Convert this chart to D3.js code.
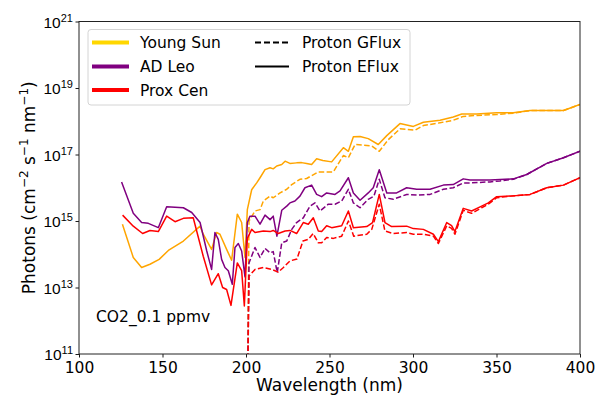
<!DOCTYPE html>
<html>
<head>
<meta charset="utf-8">
<script src="https://cdn.jsdelivr.net/npm/d3@7"></script>
<style>
  body { margin: 0; background: #fff; }
  svg { font-family: "DejaVu Sans", sans-serif; }
</style>
</head>
<body>
<svg id="chart" width="597" height="395"></svg>
<script>
///////////////////////////////////////////////////////////////////////////////
// data (wavelength in nm, photon flux in cm^-2 s^-1 nm^-1)

var LOW = 1e8; // the dashed runs start below the axis floor at 200 nm

var youngSunWl = [126, 132.5, 137.5, 142.5, 148, 153.5, 162.5, 172.5, 174.4, 179.4, 182.4, 184.4, 188.4, 191.4, 194.8, 197.4, 199.4, 200.8, 203.4, 206.4, 208.4, 211.4, 214.4, 216.3, 218.4, 221.4, 223.4, 226.3, 230.3, 233.3, 236.3, 239.3, 242.3, 246, 251.3, 258.3, 261.3, 264.3, 268.3, 273.2, 279.2, 284.3, 292.2, 300.2, 306.2, 316.2, 324.1, 329.2, 338.1, 350.1, 360.1, 370.1, 390.1, 400];
var youngSunE = [8e14, 8e13, 4e13, 5e13, 7e13, 1.3e14, 2.5e14, 7e14, 4e14, 1.4e14, 4.5e14, 4e14, 1.4e14, 6.6e13, 1.6e15, 9e14, 8e13, 2.2e15, 8.7e15, 1.4e16, 2e16, 3.5e16, 4e16, 3.7e16, 4.5e16, 5e16, 6.3e16, 5.4e16, 5.6e16, 5.7e16, 5.4e16, 5e16, 7.4e16, 6.6e16, 6e16, 1.6e17, 1.25e17, 3.4e17, 3.5e17, 3e17, 2e17, 3.7e17, 8.5e17, 7e17, 9.3e17, 1.07e18, 1.35e18, 1.65e18, 1.65e18, 1.8e18, 1.8e18, 2.1e18, 2.1e18, 3.2e18];

var youngSunGWl = [200.5, 201.8, 205.4, 208.4, 210.4, 214.4, 216.3, 220.4, 224.4, 227.4, 232.3, 236.3, 239.3, 243.3, 252.3, 258.3, 261.3, 265.3, 270.3, 275.3, 279.8, 285.2, 292.2, 301.2, 306.2, 316.2, 324.1, 330.1, 338.1, 350.1, 360.1, 370.1, 390.1, 400];
var youngSunG = [LOW, 1e15, 2e15, 2.2e15, 4e15, 5.6e15, 5e15, 7e15, 9e15, 1.25e16, 1.8e16, 1.9e16, 2.3e16, 3e16, 3e16, 9.3e16, 8e16, 2e17, 1.9e17, 1.8e17, 1.25e17, 2.8e17, 5.9e17, 5.4e17, 7.4e17, 9e17, 1.07e18, 1.4e18, 1.5e18, 1.6e18, 1.75e18, 2.1e18, 2.1e18, 3.2e18];

var adLeoWl = [125.5, 132.5, 137.5, 141.5, 147.5, 152.5, 162.5, 167.5, 172.5, 176.5, 179.4, 181.4, 183.4, 185.4, 187.4, 189.4, 191.8, 193.4, 195.4, 197.4, 199.4, 200.8, 202.4, 205.4, 208.4, 211.4, 214.4, 216.3, 218.5, 221.4, 224.4, 226.3, 229.3, 232.3, 235.3, 239.3, 242.3, 245.3, 248.3, 253.3, 256.3, 261.3, 264.3, 268.3, 273.2, 276.2, 279.8, 284.3, 290.2, 296.2, 302.2, 310.2, 318.2, 324.1, 330.1, 334.1, 346.1, 360.1, 368.1, 380.1, 390.1, 400];
var adLeoE = [1.5e16, 1.7e15, 9e14, 8.5e14, 6.3e14, 2.7e15, 2.5e15, 1.8e15, 9e14, 1.25e14, 3.5e13, 4.5e14, 2.8e14, 7e13, 4e13, 3.2e13, 1.25e13, 1.6e14, 2.1e14, 1.25e14, 2.1e13, 9e14, 1.4e15, 1.4e15, 8e14, 1.5e15, 1.1e15, 1.4e15, 3.5e14, 2.1e15, 2.8e15, 3.5e15, 4e15, 5.6e15, 1e16, 1.2e16, 6.3e15, 5.4e15, 7e15, 6.3e15, 8e15, 2e16, 7e15, 4.2e15, 7e15, 1e16, 3.5e16, 7e15, 7e15, 1e16, 9e15, 9e15, 1.2e16, 1.25e16, 1.85e16, 1.7e16, 1.7e16, 1.85e16, 2.5e16, 5.4e16, 8e16, 1.25e17];

var adLeoGWl = [200.5, 201.8, 205.4, 208.4, 211.4, 214.4, 216.3, 218.7, 221.4, 224.4, 227.4, 230.3, 234.3, 238.3, 241.3, 244.3, 249.3, 253.3, 257.3, 261.3, 264.3, 268.3, 273.2, 276.6, 279.8, 283.2, 288.2, 296.2, 302.2, 310.2, 318.2, 324.1, 330.1, 334.1, 346.1, 352, 360.1, 368.1, 380.1, 390.1, 400];
var adLeoG = [LOW, 5.5e13, 1.6e14, 8e13, 1.5e14, 1.1e14, 1.2e14, 2.8e13, 2.2e14, 2.5e14, 5.6e14, 9e14, 1.25e15, 2.8e15, 3.5e15, 2e15, 3.2e15, 3.2e15, 4e15, 9e15, 3.5e15, 2.5e15, 4.5e15, 5.6e15, 1.8e16, 5e15, 4.5e15, 6.3e15, 6e15, 6.3e15, 9e15, 1e16, 1.4e16, 1.4e16, 1.5e16, 1.6e16, 1.8e16, 2.5e16, 5.4e16, 8e16, 1.25e17];

var proxCenWl = [126.1, 132.5, 138.1, 142.5, 147.5, 152.5, 157.5, 162.5, 168.4, 174.4, 179.4, 183.4, 186, 188.4, 191, 194.8, 197.4, 199, 200.8, 203.4, 205.4, 210.4, 214.4, 216.3, 219.3, 223.4, 226.3, 230.3, 234.3, 237.3, 240.3, 243.3, 245.3, 248.3, 251.3, 257.3, 261.3, 264.3, 272.3, 275.8, 279.8, 283.2, 287.2, 296.2, 300.2, 306.2, 312.2, 315.2, 320.2, 323.1, 325.1, 330.1, 335.1, 341.1, 345.1, 350.1, 358.1, 370.1, 380.1, 390.1, 400];
var proxCenE = [1.5e15, 7e14, 4.2e14, 5.2e14, 4.8e14, 1.4e15, 9.5e14, 1.2e15, 1.25e15, 8.7e13, 1.2e13, 2.6e13, 1e13, 8.7e12, 2.9e12, 5.5e13, 3.2e13, 2.8e12, 3e14, 5.6e14, 4.5e14, 5e14, 4.8e14, 5.2e14, 4.2e14, 5e14, 5.2e14, 4.2e14, 9e14, 8e14, 1.25e15, 5e14, 4.8e14, 7.2e14, 6.3e14, 7.2e14, 2e15, 6.3e14, 6.8e14, 9e14, 6.3e15, 9e14, 6.8e14, 7e14, 5.9e14, 5.6e14, 4e14, 2.4e14, 9e14, 7.2e14, 4.8e14, 2.4e15, 2e15, 2.8e15, 3.5e15, 5.4e15, 5.6e15, 6.3e15, 1e16, 1.2e16, 2e16];

var proxCenGWl = [200.5, 201.8, 205.4, 210.4, 215.4, 219.3, 222.4, 226.3, 230.5, 234.1, 237.3, 240.2, 243.3, 245.3, 248.3, 252.3, 257.3, 261.3, 264.5, 272.3, 275.3, 279.8, 283.2, 288.2, 296.2, 300.2, 306.2, 312.2, 315.2, 320.2, 323.1, 325.1, 330.1, 335.1, 341.1, 345.1, 350.1, 358.1, 370.1, 380.1, 390.1, 400];
var proxCenG = [LOW, 2.2e13, 3.5e13, 4e13, 3.5e13, 2.9e13, 4e13, 6.3e13, 7.2e13, 2.5e14, 2.8e14, 4.2e14, 2.2e14, 2.2e14, 3.2e14, 3e14, 3.5e14, 1e15, 3.5e14, 4e14, 5.6e14, 3.2e15, 5e14, 4.2e14, 4.5e14, 4e14, 4e14, 3.5e14, 2.1e14, 7.2e14, 6e14, 4e14, 2.1e15, 1.7e15, 2.5e15, 3.2e15, 5e15, 5.6e15, 6.3e15, 1e16, 1.2e16, 2e16];

var xTicks = [100, 150, 200, 250, 300, 350, 400];
var yTicks = [1e11, 1e13, 1e15, 1e17, 1e19, 1e21];

var stars = ["Young Sun", "AD Leo", "Prox Cen"];
var starColors = ["#ffa500", "#800080", "#ff0000"];
var legendColors = ["#ffd700", "#800080", "#ff0000"];
var fluxNames = ["Proton GFlux", "Proton EFlux"];

var annotation = "CO2_0.1 ppmv";

///////////////////////////////////////////////////////////////////////////////

var svg = d3.select("#chart");
var margin = { left: 79, top: 21.5, right: 17, bottom: 41 };
var W = 597, H = 395;

var x = d3.scaleLinear().domain([100, 400]).range([margin.left, W - margin.right]);
var y = d3.scaleLog().domain([1e11, 1e21]).range([H - margin.bottom, margin.top]);

svg.append("clipPath").attr("id", "plotclip")
  .append("rect")
  .attr("x", x(100)).attr("y", y(1e21))
  .attr("width", x(400) - x(100)).attr("height", y(1e11) - y(1e21));

var zip = function (wl, vals) {
  return wl.map(function (w, i) { return [w, vals[i]]; });
};

var line = d3.line()
  .x(function (d) { return x(d[0]); })
  .y(function (d) { return y(d[1]); });

var series = [
  { wl: youngSunGWl, v: youngSunG, star: 0, dashed: true },
  { wl: youngSunWl, v: youngSunE, star: 0, dashed: false },
  { wl: adLeoGWl, v: adLeoG, star: 1, dashed: true },
  { wl: adLeoWl, v: adLeoE, star: 1, dashed: false },
  { wl: proxCenGWl, v: proxCenG, star: 2, dashed: true },
  { wl: proxCenWl, v: proxCenE, star: 2, dashed: false }
];

var plot = svg.append("g").attr("clip-path", "url(#plotclip)");
series.forEach(function (s) {
  plot.append("path")
    .datum(zip(s.wl, s.v))
    .attr("d", line)
    .attr("fill", "none")
    .attr("stroke", starColors[s.star])
    .attr("stroke-width", 1.5)
    .attr("stroke-linejoin", "round")
    .attr("stroke-dasharray", s.dashed ? "5.5,2.4" : null);
});

///////////////////////////////////////////////////////////////////////////////
// axes

var xAxis = svg.append("g")
  .attr("transform", "translate(0," + y(1e11) + ")")
  .call(d3.axisBottom(x).tickValues(xTicks).tickSize(3.5).tickPadding(4).tickFormat(d3.format("d")));
xAxis.selectAll("text").attr("font-size", 15.5).attr("fill", "#000").attr("font-family", "DejaVu Sans");

var yAxis = svg.append("g")
  .attr("transform", "translate(" + x(100) + ",0)")
  .call(d3.axisLeft(y).tickValues(yTicks).tickSize(3.5).tickFormat(""));
yAxis.selectAll(".tick").each(function (d) {
  var t = d3.select(this).append("text")
    .attr("x", -6).attr("dy", "0.38em")
    .attr("text-anchor", "end")
    .attr("font-size", 15.5).attr("fill", "#000");
  t.append("tspan").text("10");
  t.append("tspan").attr("font-size", 11).attr("dy", "-0.55em")
    .text(Math.round(Math.log10(d)));
});

[xAxis, yAxis].forEach(function (a) {
  a.select(".domain").remove();
  a.selectAll("line").attr("stroke", "#000").attr("stroke-width", 0.9);
});

svg.append("rect")
  .attr("x", x(100)).attr("y", y(1e21))
  .attr("width", x(400) - x(100)).attr("height", y(1e11) - y(1e21))
  .attr("fill", "none").attr("stroke", "#222").attr("stroke-width", 1);

svg.append("text")
  .attr("x", (x(100) + x(400)) / 2).attr("y", 391)
  .attr("text-anchor", "middle").attr("font-size", 17)
  .text("Wavelength (nm)");

var ylab = svg.append("text")
  .attr("transform", "translate(35," + ((y(1e11) + y(1e21)) / 2) + ") rotate(-90)")
  .attr("text-anchor", "middle").attr("font-size", 17);
ylab.append("tspan").text("Photons (cm");
ylab.append("tspan").attr("font-size", 12).attr("dy", -7).text("\u22122");
ylab.append("tspan").attr("dy", 7).text(" s");
ylab.append("tspan").attr("font-size", 12).attr("dy", -7).text("\u22121");
ylab.append("tspan").attr("dy", 7).text(" nm");
ylab.append("tspan").attr("font-size", 12).attr("dy", -7).text("\u22121");
ylab.append("tspan").attr("dy", 7).text(")");

svg.append("text")
  .attr("x", 96).attr("y", 322)
  .attr("font-size", 15.5)
  .text(annotation);

///////////////////////////////////////////////////////////////////////////////
// legend

var legend = svg.append("g");
legend.append("rect")
  .attr("x", 88).attr("y", 29.5).attr("width", 322).attr("height", 75.5)
  .attr("rx", 3).attr("fill", "#fff").attr("fill-opacity", 0.8)
  .attr("stroke", "#d4d4d4").attr("stroke-width", 1);

var rowY = [42.5, 66.5, 90];
stars.forEach(function (name, i) {
  legend.append("line")
    .attr("x1", 92).attr("x2", 129).attr("y1", rowY[i]).attr("y2", rowY[i])
    .attr("stroke", legendColors[i]).attr("stroke-width", 4);
  legend.append("text")
    .attr("x", 140).attr("y", rowY[i]).attr("dy", "0.36em")
    .attr("font-size", 15.5).text(name);
});
fluxNames.forEach(function (name, i) {
  legend.append("line")
    .attr("x1", 255).attr("x2", 289).attr("y1", rowY[i]).attr("y2", rowY[i])
    .attr("stroke", "#000").attr("stroke-width", 1.8)
    .attr("stroke-dasharray", i === 0 ? "6,3" : null);
  legend.append("text")
    .attr("x", 302).attr("y", rowY[i]).attr("dy", "0.36em")
    .attr("font-size", 15.5).text(name);
});
</script>
</body>
</html>
